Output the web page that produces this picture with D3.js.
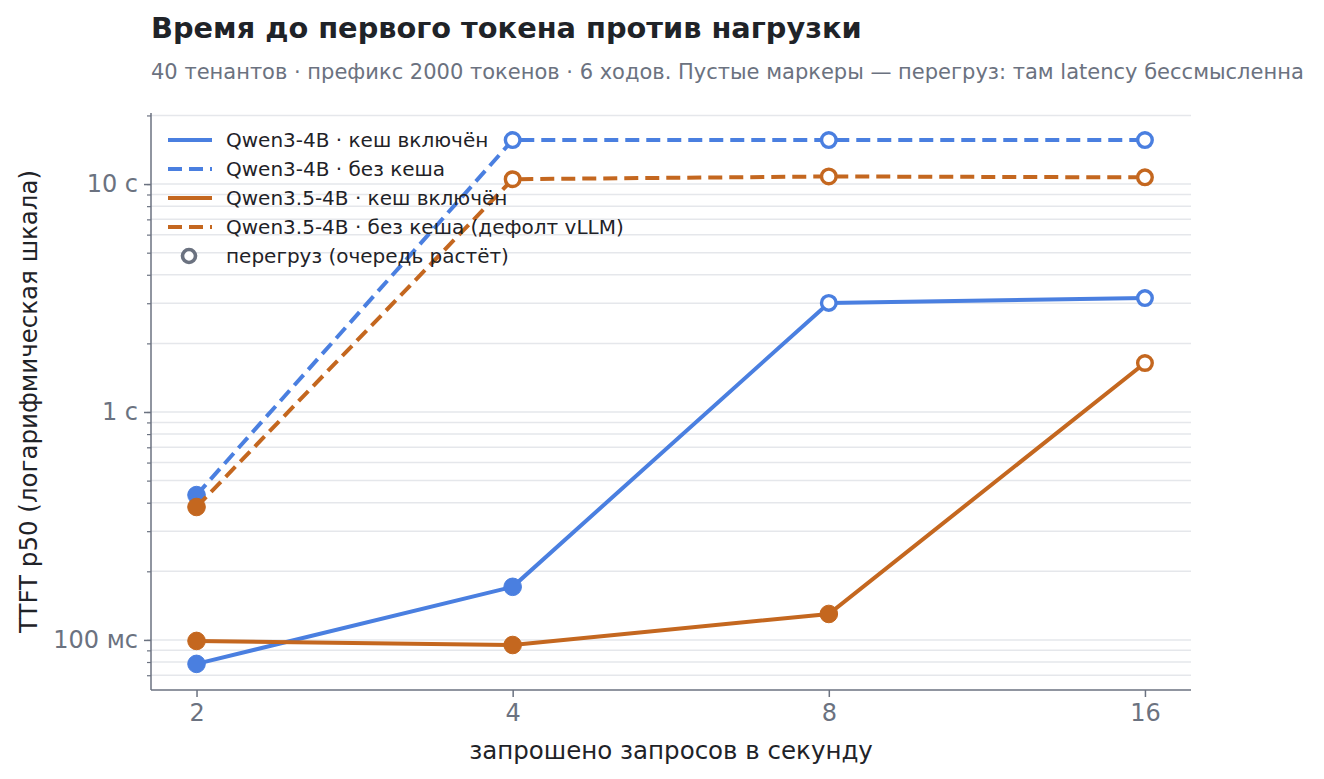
<!DOCTYPE html>
<html>
<head>
<meta charset="utf-8">
<script src="https://cdn.jsdelivr.net/npm/d3@7"></script>
<style>
  body { margin: 0; background: #fff; }
  svg { font-family: "DejaVu Sans", sans-serif; }
</style>
</head>
<body>
<div id="chart-area"></div>
<script>
// data (seconds)
var rps = [2, 4, 8, 16]
var qwen3Cache   = [0.0785, 0.171, 3.01, 3.16]
var qwen3NoCache = [0.432, 15.6, 15.6, 15.6]
var qwen35Cache  = [0.099, 0.095, 0.130, 1.64]
var qwen35NoCache = [0.383, 10.5, 10.8, 10.7]
// overload flags (hollow markers)
var qwen3CacheOver   = [false, false, true, true]
var qwen3NoCacheOver = [false, true, true, true]
var qwen35CacheOver  = [false, false, false, true]
var qwen35NoCacheOver = [false, true, true, true]
var yTicks = [0.1, 1, 10]
var yTickLabels = ['100 мс', '1 с', '10 с']

var blue = '#4a7fe0', orange = '#c4671f', grey = '#6b7280'

var series = [
  {name: 'Qwen3-4B · кеш включён', values: qwen3Cache, over: qwen3CacheOver, color: blue, dash: null},
  {name: 'Qwen3-4B · без кеша', values: qwen3NoCache, over: qwen3NoCacheOver, color: blue, dash: '14,7'},
  {name: 'Qwen3.5-4B · кеш включён', values: qwen35Cache, over: qwen35CacheOver, color: orange, dash: null},
  {name: 'Qwen3.5-4B · без кеша (дефолт vLLM)', values: qwen35NoCache, over: qwen35NoCacheOver, color: orange, dash: '14,7'}
]

var W = 1324, H = 779
var margin = {left: 151, right: 133, top: 113, bottom: 89}
var width = W - margin.left - margin.right
var height = H - margin.top - margin.bottom

var svg = d3.select('#chart-area').append('svg')
  .attr('width', W).attr('height', H)

// titles
svg.append('text').attr('x', 151).attr('y', 38)
  .attr('font-size', '28.8px').attr('font-weight', 'bold').attr('fill', '#1f2328')
  .text('Время до первого токена против нагрузки')
svg.append('text').attr('x', 151).attr('y', 79)
  .attr('font-size', '21px').attr('fill', grey)
  .text('40 тенантов · префикс 2000 токенов · 6 ходов. Пустые маркеры — перегруз: там latency бессмысленна')

var g = svg.append('g').attr('transform', 'translate(' + margin.left + ',' + margin.top + ')')

var x = d3.scaleLog().base(2).domain([1.81, 17.7]).range([0, width])
var y = d3.scaleLog().domain([0.0603, 20.5]).range([height, 0])

// minor gridlines at every log tick
var gridVals = y.ticks().filter(function(d){ return d >= 0.0603 && d <= 20.5 })
g.append('g').selectAll('line').data(gridVals).enter().append('line')
  .attr('x1', 0).attr('x2', width)
  .attr('y1', function(d){ return y(d) }).attr('y2', function(d){ return y(d) })
  .attr('stroke', '#e5e7eb').attr('stroke-width', 1.5)

// y axis: minor ticks then major
var yMinor = d3.axisLeft(y).tickValues(gridVals).tickSize(4).tickFormat('')
var yMinorG = g.append('g').call(yMinor)
yMinorG.select('.domain').remove()
yMinorG.selectAll('line').attr('stroke', grey).attr('stroke-width', 1.2)

var yAxis = d3.axisLeft(y).tickValues(yTicks).tickSize(7).tickPadding(6)
  .tickFormat(function(d, i){ return yTickLabels[i] })
var yG = g.append('g').call(yAxis)
yG.select('.domain').attr('stroke', grey).attr('stroke-width', 1.5).attr('d', 'M0,0V' + height)
yG.selectAll('line').attr('stroke', grey).attr('stroke-width', 1.5)
yG.selectAll('text').attr('font-size', '24px').attr('fill', grey).attr('font-family', 'DejaVu Sans')

// x axis
var xAxis = d3.axisBottom(x).tickValues(rps).tickSize(7).tickPadding(7).tickFormat(d3.format('d'))
var xG = g.append('g').attr('transform', 'translate(0,' + height + ')').call(xAxis)
xG.select('.domain').attr('stroke', grey).attr('stroke-width', 1.5).attr('d', 'M0,0H' + width)
xG.selectAll('line').attr('stroke', grey).attr('stroke-width', 1.5)
xG.selectAll('text').attr('font-size', '24px').attr('fill', grey).attr('font-family', 'DejaVu Sans')

// axis labels
g.append('text').attr('x', width / 2).attr('y', height + 69)
  .attr('text-anchor', 'middle').attr('font-size', '24.5px').attr('fill', '#1f2328')
  .text('запрошено запросов в секунду')
g.append('text').attr('transform', 'rotate(-90)')
  .attr('x', -height / 2).attr('y', -114)
  .attr('text-anchor', 'middle').attr('font-size', '24.5px').attr('fill', '#1f2328')
  .text('TTFT p50 (логарифмическая шкала)')

// lines and markers
var line = d3.line()
  .x(function(d){ return x(d.x) })
  .y(function(d){ return y(d.y) })

series.forEach(function(s){
  var pts = rps.map(function(r, i){ return {x: r, y: s.values[i], over: s.over[i]} })
  g.append('path').datum(pts)
    .attr('d', line).attr('fill', 'none')
    .attr('stroke', s.color).attr('stroke-width', 4)
    .attr('stroke-dasharray', s.dash)
  g.selectAll(null).data(pts).enter().append('circle')
    .attr('cx', function(d){ return x(d.x) })
    .attr('cy', function(d){ return y(d.y) })
    .attr('r', function(d){ return d.over ? 7.3 : 8.8 })
    .attr('fill', function(d){ return d.over ? '#fff' : s.color })
    .attr('stroke', s.color)
    .attr('stroke-width', function(d){ return d.over ? 3.4 : 1 })
})

// legend
var legend = g.append('g').attr('transform', 'translate(17,27)')
var rows = legend.selectAll('g').data(series).enter().append('g')
  .attr('transform', function(d, i){ return 'translate(0,' + (i * 29) + ')' })
rows.append('line').attr('x1', 0).attr('x2', 44)
  .attr('stroke', function(d){ return d.color }).attr('stroke-width', 4)
  .attr('stroke-dasharray', function(d){ return d.dash })
rows.append('text').attr('x', 58).attr('y', 7)
  .attr('font-size', '20px').attr('fill', '#1f2328')
  .text(function(d){ return d.name })
var overRow = legend.append('g').attr('transform', 'translate(0,' + (4 * 29) + ')')
overRow.append('circle').attr('cx', 21).attr('cy', 0).attr('r', 6.5)
  .attr('fill', '#fff').attr('stroke', grey).attr('stroke-width', 3.6)
overRow.append('text').attr('x', 58).attr('y', 7)
  .attr('font-size', '20px').attr('fill', '#1f2328')
  .text('перегруз (очередь растёт)')
</script>
</body>
</html>
